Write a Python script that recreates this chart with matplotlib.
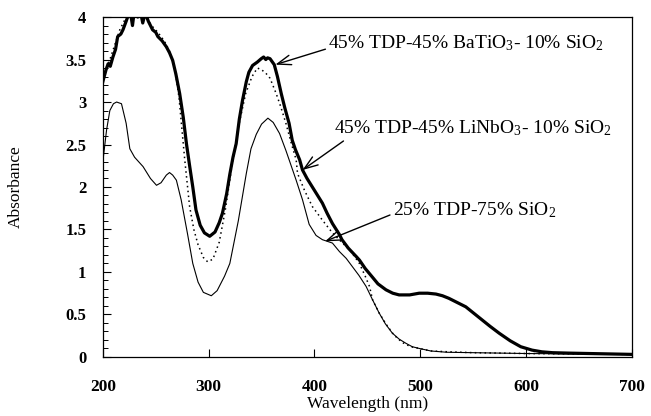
import matplotlib
matplotlib.use('Agg')
import matplotlib.pyplot as plt
import numpy as np

# wavelength (nm) / absorbance

# 45% TDP - 45% BaTiO3 - 10% SiO2 (thick line)
wl_ba = [200, 203, 205, 207, 209.5, 212, 214, 217, 219, 222, 224, 226, 228, 230,
         233, 235, 237.7, 240, 243, 247, 250, 252, 256, 260, 263, 266, 269, 272.6,
         276, 279, 282, 285, 288, 292, 296, 301, 306, 310, 313, 317, 320, 323, 326,
         329, 332, 335.6, 338, 341.5, 346, 349.7, 352, 354, 355.7, 358, 362, 365,
         368.6, 372, 376, 379, 382, 386, 388.7, 393, 398, 402, 407.5, 412, 417,
         423.6, 426, 432, 439.6, 442.5, 448, 454.7, 460, 467.6, 474, 480, 490, 499,
         507, 514.8, 521, 527, 535, 543, 550, 558, 566, 574.5, 585, 595, 605.7,
         615, 625, 640, 660, 680, 700]
ab_ba = [3.24, 3.38, 3.45, 3.42, 3.53, 3.62, 3.77, 3.80, 3.85, 3.95, 4.02, 4.06,
         3.90, 4.10, 4.00, 4.10, 3.93, 4.05, 3.95, 3.85, 3.82, 3.77, 3.72, 3.65,
         3.58, 3.49, 3.33, 3.10, 2.82, 2.51, 2.25, 2.00, 1.73, 1.55, 1.46, 1.42,
         1.47, 1.58, 1.69, 1.92, 2.15, 2.35, 2.51, 2.80, 3.02, 3.24, 3.35, 3.43,
         3.47, 3.51, 3.53, 3.50, 3.52, 3.51, 3.44, 3.30, 3.10, 2.93, 2.75, 2.55,
         2.44, 2.32, 2.20, 2.10, 2.00, 1.92, 1.81, 1.69, 1.57, 1.44, 1.38, 1.28,
         1.18, 1.14, 1.04, 0.94, 0.86, 0.79, 0.75, 0.73, 0.73, 0.75, 0.75, 0.74,
         0.72, 0.69, 0.64, 0.59, 0.52, 0.44, 0.36, 0.28, 0.19, 0.12, 0.08, 0.06,
         0.05, 0.045, 0.04, 0.035, 0.03]

# 45% TDP - 45% LiNbO3 - 10% SiO2 (dotted line)
wl_li = [200, 204, 208, 212, 216, 220, 224, 230, 240, 246, 252, 258, 263, 268,
         272, 277.4, 282, 286, 290, 295, 299, 304, 310, 316, 322, 328, 335, 341,
         346, 350, 354, 358, 363.8, 368, 373, 378, 382.7, 384, 390.6, 398, 407.5,
         417, 425, 434, 442.5, 448, 452, 455, 461, 468, 475, 483, 491, 499, 510,
         527, 550, 600, 650, 700]
ab_li = [3.30, 3.40, 3.55, 3.70, 3.85, 3.95, 4.02, 4.05, 4.02, 3.90, 3.82, 3.72,
         3.60, 3.40, 3.05, 2.32, 1.77, 1.50, 1.32, 1.17, 1.12, 1.15, 1.35, 1.75,
         2.25, 2.70, 3.10, 3.30, 3.40, 3.38, 3.34, 3.28, 3.10, 2.95, 2.75, 2.52,
         2.32, 2.16, 1.96, 1.77, 1.61, 1.46, 1.36, 1.25, 1.10, 0.95, 0.83, 0.67,
         0.52, 0.38, 0.26, 0.17, 0.12, 0.10, 0.07, 0.06, 0.05, 0.04, 0.035, 0.03]

# 25% TDP - 75% SiO2 (thin line)
wl_si = [200, 203.5, 206.6, 210, 213, 217.6, 222, 225.5, 230, 238, 245, 250.7,
         255, 260, 263, 266, 269.5, 274, 280, 285, 290, 295, 302.5, 308, 315, 320,
         328, 335.6, 340, 345, 350, 356, 361, 367, 373, 378, 382.7, 388.7, 395,
         401.5, 407.5, 417, 423.6, 430, 436, 442, 448.8, 455, 461, 467, 473.6,
         480, 486.5, 492.5, 499, 510, 525, 550, 600, 650, 700]
ab_si = [2.30, 2.67, 2.90, 2.98, 3.00, 2.98, 2.75, 2.45, 2.35, 2.24, 2.10, 2.02,
         2.05, 2.14, 2.17, 2.14, 2.08, 1.85, 1.45, 1.10, 0.88, 0.76, 0.72, 0.78,
         0.95, 1.10, 1.60, 2.16, 2.45, 2.62, 2.74, 2.81, 2.76, 2.63, 2.43, 2.25,
         2.08, 1.85, 1.56, 1.43, 1.38, 1.34, 1.24, 1.16, 1.06, 0.96, 0.83, 0.67,
         0.52, 0.39, 0.28, 0.21, 0.16, 0.12, 0.10, 0.07, 0.055, 0.05, 0.04, 0.035,
         0.03]

x_ticks = [200, 300, 400, 500, 600, 700]
y_ticks = [0, 0.5, 1, 1.5, 2, 2.5, 3, 3.5, 4]
y_ticklabels = ['0', '0.5', '1', '1.5', '2', '2.5', '3', '3.5', '4']


def main():

    matplotlib.rcParams['font.family'] = ['Liberation Serif', 'DejaVu Serif']
    matplotlib.rcParams['mathtext.fontset'] = 'custom'
    matplotlib.rcParams['mathtext.rm'] = 'Liberation Serif'
    matplotlib.rcParams['mathtext.it'] = 'Liberation Serif:italic'

    fig = plt.figure(figsize=(6.51, 4.16), dpi=100)
    ax = fig.add_axes([0.158, 0.142, 0.8126, 0.817])

    ax.plot(wl_ba, ab_ba, color='black', lw=2.3, solid_joinstyle='round')
    ax.plot(wl_li, ab_li, color='black', lw=1.1, ls=(0, (1, 2.2)))
    ax.plot(wl_si, ab_si, color='black', lw=0.8)

    ax.set_xlim(200, 700)
    ax.set_ylim(0, 4)

    ax.set_xticks(x_ticks)
    ax.set_xticklabels([str(v) for v in x_ticks], fontweight='bold', fontsize=12.5)
    ax.set_yticks(y_ticks)
    ax.set_yticklabels(y_ticklabels, fontweight='bold', fontsize=12)
    ax.set_yticks(np.arange(0, 4.01, 0.1), minor=True)

    ax.tick_params(axis='x', which='major', direction='in', length=6, width=0.8,
                   pad=16, top=False)
    ax.tick_params(axis='y', which='major', direction='in', length=6, width=0.8,
                   pad=12, right=False)
    ax.tick_params(axis='y', which='minor', direction='in', length=3.5, width=0.7,
                   right=False)

    for s in ax.spines.values():
        s.set_linewidth(0.9)

    ax.set_xlabel('Wavelength (nm)', fontsize=12.5, labelpad=0.5)
    ax.set_ylabel('Absorbance', fontsize=12.5, labelpad=30)

    arrow = dict(arrowstyle='->, head_length=0.7, head_width=0.25',
                 color='black', lw=1.0, shrinkA=0, shrinkB=0)

    ax.annotate('45% TDP-45% BaTiO$_3$- 10% SiO$_2$', xy=(363, 3.44),
                xytext=(413, 3.69), fontsize=14, va='center', ha='left',
                arrowprops=dict(arrow, relpos=(0.0, 0.25)))
    ax.annotate('45% TDP-45% LiNbO$_3$- 10% SiO$_2$', xy=(388.7, 2.2),
                xytext=(418, 2.69), fontsize=14, va='center', ha='left',
                arrowprops=dict(arrow, relpos=(0.05, 0.0)))
    ax.annotate('25% TDP-75% SiO$_2$', xy=(410, 1.36),
                xytext=(474, 1.73), fontsize=14, va='center', ha='left',
                arrowprops=dict(arrow, relpos=(0.0, 0.3)))

    plt.savefig('out.png', dpi=100)


if __name__ == "__main__":
    main()
